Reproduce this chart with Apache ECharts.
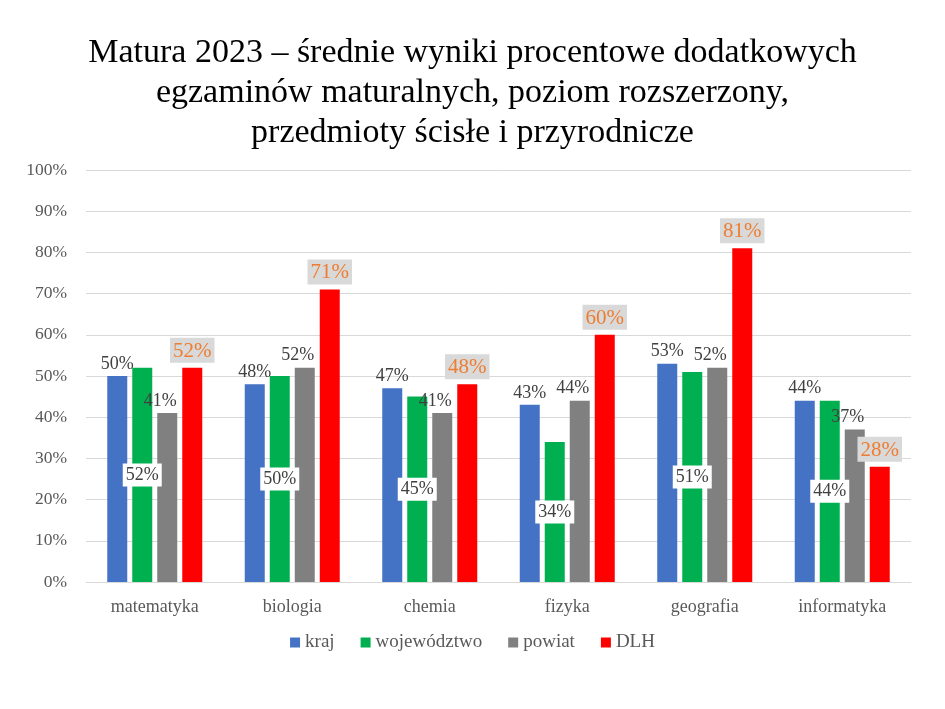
<!DOCTYPE html>
<html><head><meta charset="utf-8">
<script src="https://cdn.jsdelivr.net/npm/echarts@6/dist/echarts.min.js"></script>
<style>html,body{margin:0;padding:0;background:#fff}#c{width:945px;height:709px}</style>
</head><body><div id="c"></div>
<script>
const categories = ['matematyka','biologia','chemia','fizyka','geografia','informatyka'];
const kraj = [50,48,47,43,53,44];
const wojewodztwo = [52,50,45,34,51,44];
const powiat = [41,52,41,44,52,37];
const dlh = [52,71,48,60,81,28];
const yTicks = [0,10,20,30,40,50,60,70,80,90,100];
const seriesNames = ['kraj','województwo','powiat','DLH'];
const titleText = 'Matura 2023 – średnie wyniki procentowe dodatkowych\negzaminów maturalnych, poziom rozszerzony,\nprzedmioty ścisłe i przyrodnicze';

const FONT = '"Liberation Serif", serif';
const chart = echarts.init(document.getElementById('c'), null, {renderer:'canvas'});
const pct = p => p.value + '%';
chart.setOption({
  animation:false,
  title:{text:titleText, left:'center', top:28, textStyle:{fontFamily:FONT, fontSize:34, fontWeight:'normal', color:'#000', lineHeight:40}},
  legend:{data:seriesNames, bottom:52, left:'center', icon:'rect', itemWidth:10, itemHeight:10, itemGap:26,
    textStyle:{fontFamily:FONT, fontSize:19, color:'#595959'}},
  grid:{left:86, right:34, top:170, bottom:127},
  xAxis:{type:'category', data:categories, axisTick:{show:false},
    axisLine:{lineStyle:{color:'#d9d9d9'}},
    axisLabel:{fontFamily:FONT, fontSize:18, color:'#595959', margin:16}},
  yAxis:{type:'value', min:0, max:100, interval:10,
    axisLabel:{fontFamily:FONT, fontSize:17.5, color:'#595959', margin:19, formatter: v => yTicks.includes(v) ? v + '%' : ''},
    splitLine:{lineStyle:{color:'#d9d9d9'}}},
  series:[
    {name:'kraj', type:'bar', data:kraj, barWidth:20, barGap:'25%', itemStyle:{color:'#4472c4'},
      label:{show:true, position:'top', formatter:pct, fontFamily:FONT, fontSize:18, color:'#404040', distance:3}},
    {name:'województwo', type:'bar', data:wojewodztwo, barWidth:20, itemStyle:{color:'#00b050'},
      label:{show:true, position:'inside', formatter:pct, fontFamily:FONT, fontSize:18, color:'#404040', backgroundColor:'#fff', padding:[3,3,2,3]}},
    {name:'powiat', type:'bar', data:powiat, barWidth:20, itemStyle:{color:'#808080'},
      label:{show:true, position:'top', formatter:pct, fontFamily:FONT, fontSize:18, color:'#404040', distance:3, offset:[-7,0]}},
    {name:'DLH', type:'bar', data:dlh, barWidth:20, itemStyle:{color:'#ff0000'},
      label:{show:true, position:'top', formatter:pct, fontFamily:FONT, fontSize:21, color:'#ed7d31', backgroundColor:'#d9d9d9', padding:[3,3,1,3], distance:5}}
  ]
});
</script></body></html>
